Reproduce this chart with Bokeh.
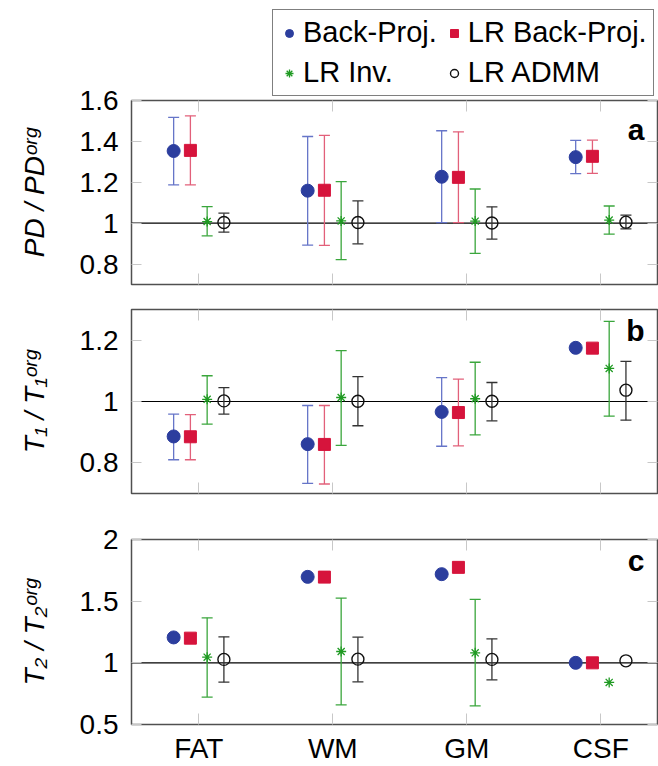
from bokeh.plotting import figure
from bokeh.models import (ColumnDataSource, Range1d, FixedTicker, LinearAxis, Span,
                          Whisker, TeeHead, Legend, LegendItem, Label)
from bokeh.layouts import column
from bokeh.transform import dodge
from bokeh.embed import file_html
from bokeh.resources import INLINE

# ---------------- data ----------------
categories = ["FAT", "WM", "GM", "CSF"]

# panel a : PD / PD^org
pd_bp = [1.353, 1.159, 1.227, 1.323]
pd_bp_lo = [1.187, 0.893, 1.003, 1.242]
pd_bp_hi = [1.517, 1.424, 1.452, 1.405]
pd_lrbp = [1.356, 1.161, 1.224, 1.327]
pd_lrbp_lo = [1.187, 0.891, 1.003, 1.244]
pd_lrbp_hi = [1.525, 1.429, 1.447, 1.406]
pd_lrinv = [1.008, 1.011, 1.010, 1.015]
pd_lrinv_lo = [0.938, 0.822, 0.852, 0.946]
pd_lrinv_hi = [1.081, 1.203, 1.167, 1.084]
pd_admm = [1.003, 1.003, 1.001, 1.005]
pd_admm_lo = [0.956, 0.899, 0.922, 0.972]
pd_admm_hi = [1.049, 1.109, 1.080, 1.039]

# panel b : T1 / T1^org
t1_bp = [0.886, 0.861, 0.966, 1.175]
t1_bp_lo = [0.810, 0.733, 0.854, None]
t1_bp_hi = [0.959, 0.987, 1.078, None]
t1_lrbp = [0.885, 0.860, 0.964, 1.174]
t1_lrbp_lo = [0.810, 0.731, 0.855, None]
t1_lrbp_hi = [0.957, 0.987, 1.073, None]
t1_lrinv = [1.007, 1.013, 1.009, 1.108]
t1_lrinv_lo = [0.926, 0.857, 0.891, 0.952]
t1_lrinv_hi = [1.084, 1.166, 1.128, 1.261]
t1_admm = [1.002, 1.001, 1.001, 1.037]
t1_admm_lo = [0.959, 0.921, 0.937, 0.939]
t1_admm_hi = [1.045, 1.081, 1.062, 1.131]

# panel c : T2 / T2^org
t2_bp = [1.206, 1.697, 1.719, 1.000]
t2_bp_lo = [None, None, None, None]
t2_bp_hi = [None, None, None, None]
t2_lrbp = [1.200, 1.695, 1.774, 1.000]
t2_lrbp_lo = [None, None, None, None]
t2_lrbp_hi = [None, None, None, None]
t2_lrinv = [1.046, 1.092, 1.081, 0.841]
t2_lrinv_lo = [0.722, 0.659, 0.651, None]
t2_lrinv_hi = [1.365, 1.525, 1.514, None]
t2_admm = [1.028, 1.030, 1.028, 1.016]
t2_admm_lo = [0.843, 0.846, 0.862, None]
t2_admm_hi = [1.211, 1.208, 1.195, None]

pd_ticks = [0.8, 1, 1.2, 1.4, 1.6]
pd_tick_labels = ["0.8", "1", "1.2", "1.4", "1.6"]
t1_ticks = [0.8, 1, 1.2]
t1_tick_labels = ["0.8", "1", "1.2"]
t2_ticks = [0.5, 1, 1.5, 2]
t2_tick_labels = ["0.5", "1", "1.5", "2"]

series_names = ["Back-Proj.", "LR Back-Proj.", "LR Inv.", "LR ADMM"]

# ---------------- styles ----------------
FONT = "Liberation Sans"
BLUE, BLUE_BAR = "#2c3e9e", "#6675c8"
RED, RED_BAR = "#d6143c", "#e2607a"
GREEN, GREEN_BAR = "#1f9a22", "#3aa63c"
BLACK, BLACK_BAR = "#111111", "#333333"
TICK_GRAY = "#c8c8c8"

styles = [
    dict(off=-0.1875, marker="circle", size=13, fill=BLUE, line=BLUE, lw=1, bar=BLUE_BAR),
    dict(off=-0.0625, marker="square", size=12, fill=RED, line=RED, lw=1, bar=RED_BAR),
    dict(off=0.0625, marker="asterisk", size=10, fill=None, line=GREEN, lw=1.3, bar=GREEN_BAR),
    dict(off=0.1875, marker="circle", size=12, fill=None, line=BLACK, lw=1.4, bar=BLACK_BAR),
]

X_START, X_END = -0.502, 3.423


def hide_labels(ax):
    ax.major_label_text_font_size = "0px"
    ax.major_label_text_color = None
    ax.major_label_standoff = 0


def make_panel(series, yr, ticks, tick_labels, ylabel, letter, letter_dy,
               height, top, bottom, show_x_labels, margin=None, transparent=False):
    p = figure(width=658, height=height, output_backend="svg", toolbar_location=None,
               x_range=Range1d(X_START, X_END), y_range=Range1d(*yr),
               min_border_left=131, min_border_right=1,
               min_border_top=top, min_border_bottom=bottom)
    if margin is not None:
        p.margin = margin
    p.xgrid.visible = False
    p.ygrid.visible = False
    p.outline_line_color = "#505050"
    p.outline_line_width = 1.5
    p.background_fill_color = "white"
    p.border_fill_color = None if transparent else "white"

    xt = FixedTicker(ticks=list(range(len(categories))))
    yt = FixedTicker(ticks=ticks)

    xa = p.xaxis[0]
    xa.ticker = xt
    xa.axis_line_color = None
    xa.major_tick_in = 11
    xa.major_tick_out = 0
    xa.major_tick_line_color = TICK_GRAY
    xa.minor_tick_line_color = None
    if show_x_labels:
        xa.major_label_overrides = {i: c for i, c in enumerate(categories)}
        xa.major_label_text_font = FONT
        xa.major_label_text_color = "black"
        xa.major_label_text_font_size = "28px"
        xa.major_label_standoff = 8
    else:
        hide_labels(xa)

    ya = p.yaxis[0]
    ya.ticker = yt
    ya.major_label_overrides = {t: l for t, l in zip(ticks, tick_labels)}
    ya.axis_line_color = None
    ya.major_tick_in = 10
    ya.major_tick_out = 0
    ya.major_tick_line_color = TICK_GRAY
    ya.minor_tick_line_color = None
    ya.major_label_text_font = FONT
    ya.major_label_text_font_size = "28px"
    ya.major_label_text_color = "black"
    ya.major_label_standoff = 13
    ya.axis_label = ylabel
    ya.axis_label_text_font = FONT
    ya.axis_label_text_font_size = "28px"
    ya.axis_label_text_font_style = "italic"
    ya.axis_label_text_color = "black"
    ya.axis_label_standoff = 27

    for loc, tk, tin in (("above", xt, 11), ("right", yt, 10)):
        ax = LinearAxis(ticker=tk, axis_line_color=None, major_tick_in=tin, major_tick_out=0,
                        major_tick_line_color=TICK_GRAY, minor_tick_line_color=None)
        hide_labels(ax)
        p.add_layout(ax, loc)

    p.add_layout(Span(location=1, dimension="width", line_color="black",
                      line_width=1.2, level="underlay"))

    for (vals, lo, hi), st in zip(series, styles):
        src = ColumnDataSource(dict(x=list(range(len(categories))), y=vals))
        xs = dodge("x", st["off"], range=p.x_range)
        wx = [i for i, (a, b) in enumerate(zip(lo, hi)) if a is not None and b is not None]
        if wx:
            wsrc = ColumnDataSource(dict(x=wx, lo=[lo[i] for i in wx], hi=[hi[i] for i in wx]))
            w = Whisker(base=dodge("x", st["off"], range=p.x_range), lower="lo", upper="hi",
                        source=wsrc, line_color=st["bar"], line_width=1.3, level="underlay",
                        upper_head=TeeHead(size=11, line_color=st["bar"], line_width=1.3),
                        lower_head=TeeHead(size=11, line_color=st["bar"], line_width=1.3))
            p.add_layout(w)
        p.scatter(x=xs, y="y", source=src, marker=st["marker"], size=st["size"],
                  fill_color=st["fill"], line_color=st["line"], line_width=st["lw"])

    p.add_layout(Label(x=X_END, y=yr[1], x_offset=-13, y_offset=letter_dy, text=letter,
                       text_align="right", text_baseline="alphabetic",
                       text_font=FONT, text_font_size="30px", text_font_style="bold",
                       text_color="black"))
    return p


panel_a_series = [(pd_bp, pd_bp_lo, pd_bp_hi), (pd_lrbp, pd_lrbp_lo, pd_lrbp_hi),
                  (pd_lrinv, pd_lrinv_lo, pd_lrinv_hi), (pd_admm, pd_admm_lo, pd_admm_hi)]

# ---------------- legend strip ----------------
# the legend's sample renderers use the panel-a data but sit outside this strip's ranges
pl = figure(width=658, height=96, output_backend="svg", toolbar_location=None,
            x_range=Range1d(X_START, X_END), y_range=Range1d(-2, -1),
            min_border_left=0, min_border_right=0, min_border_top=0, min_border_bottom=0)
pl.axis.visible = False
pl.grid.visible = False
pl.outline_line_color = None
pl.background_fill_color = None
pl.border_fill_color = None
leg_renderers = []
for (vals, _lo, _hi), st in zip(panel_a_series, styles):
    src = ColumnDataSource(dict(x=list(range(len(categories))), y=vals))
    r = pl.scatter(x="x", y="y", source=src, marker=st["marker"], size=st["size"],
                   fill_color=st["fill"], line_color=st["line"], line_width=st["lw"])
    leg_renderers.append(r)
legend = Legend(items=[LegendItem(label=n, renderers=[r]) for n, r in zip(series_names, leg_renderers)],
                location=(141, 0), orientation="horizontal", ncols=2,
                label_text_font=FONT, label_text_font_size="29px", label_text_color="black",
                glyph_width=20, glyph_height=20, label_standoff=4, padding=6, spacing=7,
                margin=0, border_line_color="black", border_line_width=1.3,
                background_fill_color="white", background_fill_alpha=1.0)
pl.add_layout(legend, "center")

pa = make_panel(panel_a_series,
                (0.7, 1.6), pd_ticks, pd_tick_labels, "PD / PDᵒʳᵍ", "a", -29,
                height=224, top=28, bottom=12, show_x_labels=False,
                margin=(-24, 0, 0, 0), transparent=True)

pb = make_panel(
    [(t1_bp, t1_bp_lo, t1_bp_hi), (t1_lrbp, t1_lrbp_lo, t1_lrbp_hi),
     (t1_lrinv, t1_lrinv_lo, t1_lrinv_hi), (t1_admm, t1_admm_lo, t1_admm_hi)],
    (0.7, 1.3), t1_ticks, t1_tick_labels, "T₁ / T₁ᵒʳᵍ", "b", -21,
    height=220, top=13, bottom=23, show_x_labels=False)

pc = make_panel(
    [(t2_bp, t2_bp_lo, t2_bp_hi), (t2_lrbp, t2_lrbp_lo, t2_lrbp_hi),
     (t2_lrinv, t2_lrinv_lo, t2_lrinv_hi), (t2_admm, t2_admm_lo, t2_admm_hi)],
    (0.5, 2.0), t2_ticks, t2_tick_labels, "T₂ / T₂ᵒʳᵍ", "c", -21,
    height=250, top=23, bottom=42, show_x_labels=True)

layout = column(pl, pa, pb, pc)
open("out.html", "w").write(file_html(layout, INLINE))
